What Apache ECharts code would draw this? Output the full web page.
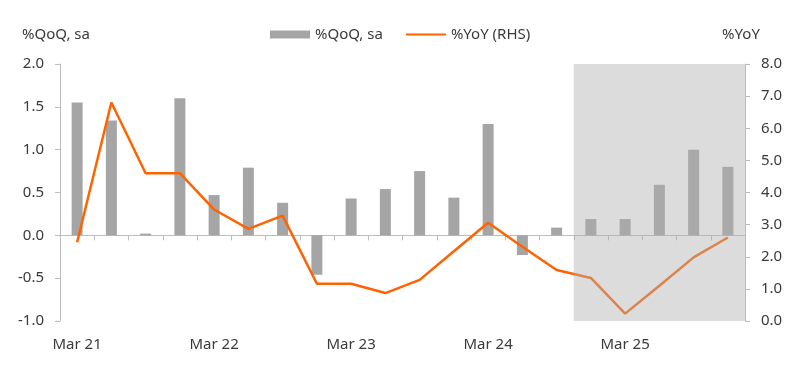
<!DOCTYPE html>
<html>
<head>
<meta charset="utf-8">
<script src="https://cdn.jsdelivr.net/npm/echarts@6/dist/echarts.min.js"></script>
<style>html,body{margin:0;padding:0;background:#fff}#c{width:800px;height:369px}</style>
</head>
<body>
<div id="c"></div>
<script>
const categories = ['Mar 21','Jun 21','Sep 21','Dec 21','Mar 22','Jun 22','Sep 22','Dec 22','Mar 23','Jun 23','Sep 23','Dec 23','Mar 24','Jun 24','Sep 24','Dec 24','Mar 25','Jun 25','Sep 25','Dec 25'];
const qoq = [1.55,1.34,0.02,1.6,0.47,0.79,0.38,-0.46,0.43,0.54,0.75,0.44,1.3,-0.23,0.09,0.19,0.19,0.59,1.0,0.8];
const yoy = [2.45,6.8,4.6,4.6,3.47,2.87,3.28,1.16,1.16,0.87,1.28,2.17,3.06,2.31,1.59,1.34,0.23,1.1,1.98,2.6];
const shadeStart = 'Dec 24';
const leftTicks = {min: -1, max: 2, interval: 0.5};
const rightTicks = {min: 0, max: 8, interval: 1};

const startIdx = categories.indexOf(shadeStart);
const shadeData = [[startIdx, rightTicks.max], [categories.length, rightTicks.max]];

const FONT = 'Noto Sans';
const TXT = '#3a3a3a';
const AX = '#bdbdbd';

const chart = echarts.init(document.getElementById('c'), null, {renderer: 'canvas'});
chart.setOption({
  animation: false,
  textStyle: {fontFamily: FONT},
  legend: {
    top: 22, left: 265, itemWidth: 40, itemHeight: 8, itemGap: 22,
    textStyle: {fontFamily: FONT, fontSize: 15, color: TXT},
    data: [{name: '%QoQ, sa', icon: 'rect'}, {name: '%YoY (RHS)', itemStyle: {opacity: 0}}]
  },
  grid: {left: 60, right: 55, top: 64, bottom: 48, containLabel: false},
  xAxis: [{
    type: 'category', data: categories, position: 'bottom',
    axisLine: {show: false}, axisTick: {show: false},
    axisLabel: {interval: 3, color: TXT, fontSize: 15, fontFamily: FONT, margin: 16}
  }, {
    type: 'value', min: 0, max: categories.length, interval: 1, position: 'bottom',
    axisLine: {show: true, onZero: true, onZeroAxisIndex: 0, lineStyle: {color: AX, width: 1}},
    axisTick: {show: true, length: 5, lineStyle: {color: AX}},
    axisLabel: {show: false}, splitLine: {show: false}
  }],
  yAxis: [{
    type: 'value', min: leftTicks.min, max: leftTicks.max, interval: leftTicks.interval,
    name: '%QoQ, sa', nameLocation: 'end', nameGap: 22,
    nameTextStyle: {color: TXT, fontSize: 15, fontFamily: FONT, align: 'center', padding: [0, 8, 0, 0]},
    axisLine: {show: true, lineStyle: {color: AX}},
    axisTick: {show: true, length: 5, lineStyle: {color: AX}},
    splitLine: {show: false},
    axisLabel: {color: TXT, fontSize: 15, fontFamily: FONT, margin: 16, formatter: v => v.toFixed(1)}
  }, {
    type: 'value', min: rightTicks.min, max: rightTicks.max, interval: rightTicks.interval, position: 'right',
    name: '%YoY', nameLocation: 'end', nameGap: 22,
    nameTextStyle: {color: TXT, fontSize: 15, fontFamily: FONT, align: 'center', padding: [0, 8, 0, 0]},
    axisLine: {show: true, lineStyle: {color: AX}},
    axisTick: {show: true, length: 5, lineStyle: {color: AX}},
    splitLine: {show: false},
    axisLabel: {color: TXT, fontSize: 15, fontFamily: FONT, margin: 16, formatter: v => v.toFixed(1)}
  }],
  series: [{
    name: '%QoQ, sa', type: 'bar', data: qoq, xAxisIndex: 0, yAxisIndex: 0,
    barWidth: 11, itemStyle: {color: '#a5a5a5'}, z: 2
  }, {
    name: '%YoY (RHS)', type: 'line', data: yoy, xAxisIndex: 0, yAxisIndex: 1,
    symbol: 'none', lineStyle: {color: '#ff6200', width: 2.5}, itemStyle: {color: '#ff6200'}, z: 3
  }, {
    name: 'shade', type: 'line', data: shadeData, xAxisIndex: 1, yAxisIndex: 1,
    symbol: 'none', lineStyle: {width: 0, opacity: 0},
    areaStyle: {color: 'rgba(175,175,175,0.44)', opacity: 1},
    z: 10, silent: true
  }]
});
</script>
</body>
</html>
